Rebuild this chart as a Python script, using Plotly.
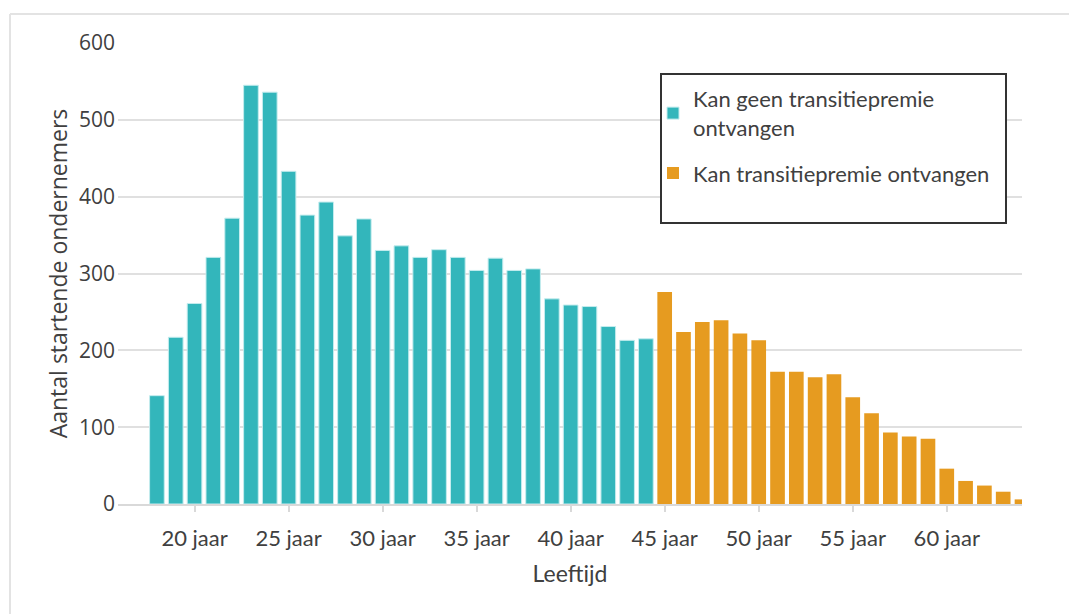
import plotly.graph_objects as go

ages_geen = list(range(18, 45))
values_geen = [141, 217, 261, 321, 372, 545, 536, 433, 376, 393, 349, 371, 330, 336, 321,
               331, 321, 304, 320, 304, 306, 267, 259, 257, 231, 213, 215]
ages_kan = list(range(45, 65))
values_kan = [276, 224, 237, 239, 222, 213, 172, 172, 165, 169, 139, 118, 93, 88, 85,
              46, 30, 24, 16, 6]
tick_vals = [20, 25, 30, 35, 40, 45, 50, 55, 60]
tick_text = [f"{v} jaar" for v in tick_vals]
name_geen = "Kan geen transitiepremie<br>ontvangen"
name_kan = "Kan transitiepremie ontvangen"

TEAL = "#33B6BB"
ORANGE = "#E69B20"
TXT = "#404040"
W, H = 1069, 614
L, R, T, B = 118, 47, 43, 110

fig = go.Figure()
fig.add_trace(go.Bar(x=ages_geen, y=values_geen, name=name_geen, width=0.78, legendgroup="geen",
                     marker=dict(color=TEAL, line=dict(color="#c4ecee", width=1))))
fig.add_trace(go.Bar(x=ages_kan, y=values_kan, name=name_kan, width=0.78, legendgroup="kan",
                     marker=dict(color=ORANGE, line=dict(width=0))))

def px_x(p):
    return (p - L) / (W - L - R)

def px_y(p):
    return 1 - (p - T) / (H - T - B)

shapes = [
    # card border (top and left)
    dict(type="line", xref="paper", yref="paper", x0=px_x(10), x1=px_x(W + 5), y0=px_y(14), y1=px_y(14),
         line=dict(color="#e3e3e3", width=2)),
    dict(type="line", xref="paper", yref="paper", x0=px_x(10), x1=px_x(10), y0=px_y(14), y1=px_y(H + 5),
         line=dict(color="#e3e3e3", width=2)),
    # legend box
    dict(type="rect", xref="paper", yref="paper", x0=px_x(661), x1=px_x(1006), y0=px_y(74), y1=px_y(223),
         line=dict(color="#333333", width=2), fillcolor="white", layer="above"),
]

fig.update_layout(
    width=W, height=H,
    margin=dict(l=L, r=R, t=T, b=B, pad=0),
    paper_bgcolor="white", plot_bgcolor="white",
    font=dict(family="Lato", color=TXT, size=20),
    showlegend=True,
    legend=dict(x=px_x(653), y=px_y(78), xanchor="left", yanchor="top",
                bgcolor="rgba(0,0,0,0)", borderwidth=0,
                font=dict(family="Lato", size=22, color=TXT),
                tracegroupgap=14, itemclick=False, itemdoubleclick=False),
    shapes=shapes,
    bargap=0.22,
    xaxis=dict(range=[15.93, 64.0], tickmode="array", tickvals=tick_vals, ticktext=tick_text,
               ticks="outside", ticklen=6, tickcolor="#d9d9d9", tickwidth=1.5,
               showgrid=False, showline=True, linecolor="#d9d9d9", linewidth=1.5,
               ticklabelstandoff=8,
               tickfont=dict(family="Lato", size=22, color=TXT),
               title=dict(text="Leeftijd", font=dict(family="Lato", size=23, color=TXT), standoff=16)),
    yaxis=dict(range=[0, 600], tickvals=[0, 100, 200, 300, 400, 500, 600],
               showgrid=True, gridcolor="#e0e0e0", gridwidth=1.5, zeroline=False,
               ticks="", ticklabelstandoff=2,
               tickfont=dict(family="Open Sans", size=21, color=TXT),
               title=dict(text="Aantal startende ondernemers",
                          font=dict(family="Open Sans", size=23, color=TXT), standoff=4)),
)

fig.write_html("out.html", config={"displayModeBar": False},
               post_script="document.body.style.margin='0';document.body.style.padding='0';")
